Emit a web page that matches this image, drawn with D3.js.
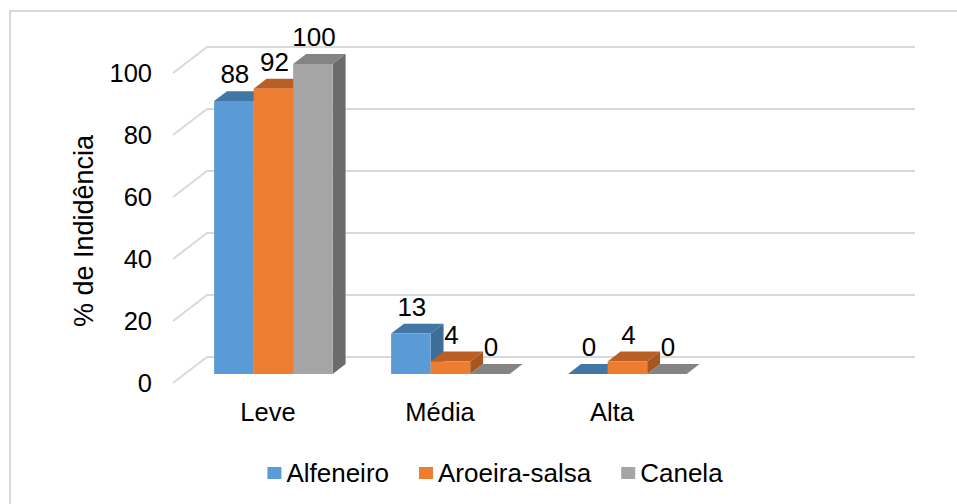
<!DOCTYPE html>
<html>
<head>
<meta charset="utf-8">
<script src="https://cdn.jsdelivr.net/npm/d3@7"></script>
<style>
  body { margin: 0; background: #fff; }
  svg { display: block; }
  text { font-family: "Liberation Sans", Arial, sans-serif; fill: #000; }
</style>
</head>
<body>
<div id="chart"></div>
<script>
// Severity classes (the last slot is an empty category kept by the spreadsheet)
const categories = ["Leve", "Média", "Alta", ""];
const seriesNames = ["Alfeneiro", "Aroeira-salsa", "Canela"];
const alfeneiro = [88, 13, 0];
const aroeiraSalsa = [92, 4, 4];
const canela = [100, 0, 0];
const yTicks = [0, 20, 40, 60, 80, 100];

const seriesValues = [alfeneiro, aroeiraSalsa, canela];
const frontColors = ["#5B9BD5", "#ED7D31", "#A5A5A5"];
const topColors = ["#4276A4", "#BA5E24", "#848484"];
const sideColors = ["#3D6D99", "#A8561F", "#6B6B6B"];

const W = 957, H = 504;
const FONT = 25.5;
const DX = 34, DY = 26;          // full floor depth offset
const Z_FRONT = 0.35, Z_BACK = 0.73; // bar depth slice

const svg = d3.select("#chart").append("svg")
  .attr("width", W).attr("height", H);

// chart frame
svg.append("rect")
  .attr("x", 10).attr("y", 11).attr("width", 1200).attr("height", 1000)
  .attr("fill", "#fff").attr("stroke", "#d9d9d9").attr("stroke-width", 2);

const y = d3.scaleLinear().domain([0, 100]).range([383, 73]);
const x0 = d3.scaleBand().domain(categories).range([173, 881])
  .paddingInner(0.33).paddingOuter(0.165);
const x1 = d3.scaleBand().domain(seriesNames).range([0, x0.bandwidth()]);
const xLabel = d3.scaleBand().domain(categories).range([182, 870]);

const proj = (xf, v, z) => [xf + z * DX, y(v) - z * DY];

// gridlines on back wall and side wall
const grid = svg.append("g").attr("stroke", "#d9d9d9").attr("stroke-width", 2).attr("fill", "none");
yTicks.forEach(t => {
  const a = proj(173, t, 0), b = proj(173, t, 1), c = proj(881, t, 1);
  grid.append("path").attr("d", `M${a[0]},${a[1]}L${b[0]},${b[1]}L${c[0]},${c[1]}`);
});

// value axis
const yAxis = svg.append("g").attr("transform", "translate(152,0)")
  .call(d3.axisLeft(y).tickValues(yTicks).tickSize(0).tickPadding(0));
yAxis.select(".domain").remove();
yAxis.selectAll("text").attr("font-size", FONT).attr("font-family", "Liberation Sans, Arial, sans-serif").attr("fill", "#000");

// category axis
const xAxis = svg.append("g").attr("transform", "translate(0,383)")
  .call(d3.axisBottom(xLabel).tickSize(0).tickPadding(20));
xAxis.select(".domain").remove();
xAxis.selectAll("text").attr("font-size", FONT).attr("font-family", "Liberation Sans, Arial, sans-serif").attr("fill", "#000");

// 3D bars
const bars = svg.append("g");
categories.forEach((cat, ci) => {
  seriesNames.forEach((s, si) => {
    const v = seriesValues[si][ci];
    if (v === undefined || v === null) return;
    const xl = x0(cat) + x1(s), xr = xl + x1.bandwidth();
    const fbl = proj(xl, 0, Z_FRONT), fbr = proj(xr, 0, Z_FRONT);
    const ftl = proj(xl, v, Z_FRONT), ftr = proj(xr, v, Z_FRONT);
    const btl = proj(xl, v, Z_BACK), btr = proj(xr, v, Z_BACK);
    const bbr = proj(xr, 0, Z_BACK);
    const g = bars.append("g");
    // top face
    g.append("path")
      .attr("d", `M${ftl}L${ftr}L${btr}L${btl}Z`)
      .attr("fill", topColors[si]);
    // right side face
    g.append("path")
      .attr("d", `M${fbr}L${ftr}L${btr}L${bbr}Z`)
      .attr("fill", sideColors[si]);
    // front face
    g.append("path")
      .attr("d", `M${fbl}L${ftl}L${ftr}L${fbr}Z`)
      .attr("fill", frontColors[si]);
  });
});

// data labels
const labels = svg.append("g").attr("font-size", 26).attr("text-anchor", "middle");
categories.forEach((cat, ci) => {
  seriesNames.forEach((s, si) => {
    const v = seriesValues[si][ci];
    if (v === undefined || v === null) return;
    const cx = x0(cat) + x1(s) + x1.bandwidth() / 2 + Z_FRONT * DX + 1;
    labels.append("text")
      .attr("x", cx)
      .attr("y", y(v) - Z_BACK * DY - 8)
      .text(v);
  });
});

// axis title
svg.append("text")
  .attr("transform", "translate(93,231) rotate(-90)")
  .attr("text-anchor", "middle")
  .attr("font-size", 27)
  .text("% de Indidência");

// legend
const legend = svg.append("g");
let lx = 0;
seriesNames.forEach((s, i) => {
  const g = legend.append("g");
  g.append("rect").attr("x", 0).attr("y", -6).attr("width", 14).attr("height", 12).attr("fill", frontColors[i]);
  const t = g.append("text").attr("x", 19).attr("y", 9).attr("font-size", 26).text(s);
  const w = 19 + t.node().getComputedTextLength();
  g.attr("transform", `translate(${lx},0)`);
  lx += w + 30;
});
const legendW = lx - 30;
legend.attr("transform", `translate(${495 - legendW / 2},473)`);
</script>
</body>
</html>
